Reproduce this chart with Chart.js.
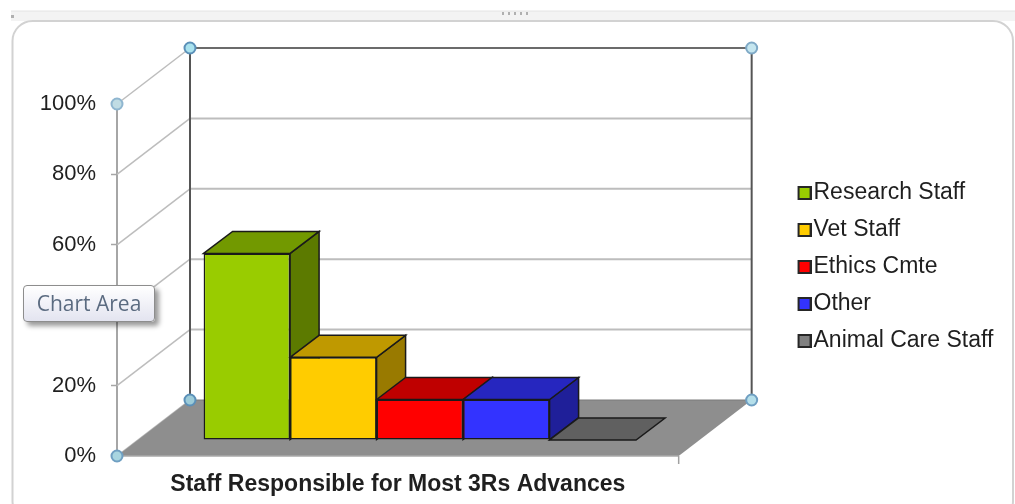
<!DOCTYPE html>
<html>
<head>
<meta charset="utf-8">
<title>Staff Responsible for Most 3Rs Advances</title>
<script src="https://cdn.jsdelivr.net/npm/chart.js@4/dist/chart.umd.min.js"></script>
<style>
html, body { margin: 0; padding: 0; background: #fff; }
#wrap { position: relative; width: 1015px; height: 504px; overflow: hidden; }
canvas { display: block; }
#chartTip {
  position: absolute; left: 23px; top: 285px; width: 130px; height: 35px;
  box-sizing: content-box; border: 1px solid #8d8d8d; border-radius: 4px;
  background: linear-gradient(#ffffff, #e3e4f0);
  box-shadow: 4px 4px 5px rgba(0,0,0,0.4);
  font: 21px/35px "Open Sans", sans-serif; color: #5b6b80; text-align: center;
}
</style>
</head>
<body>
<div id="wrap">
  <canvas id="ChartA" width="1015" height="504"></canvas>
  <div id="chartTip">Chart Area</div>
</div>
<script>
const categories = ['Staff Responsible for Most 3Rs Advances'];
const seriesNames = ['Research Staff', 'Vet Staff', 'Ethics Cmte', 'Other', 'Animal Care Staff'];
const seriesValues = [53, 23.5, 11.5, 11.5, 0];
const frontColors = ['#99cc00', '#ffcc00', '#ff0000', '#3333ff', '#808080'];
const topColors = ['#729900', '#bf9900', '#bf0000', '#2626bf', '#606060'];
const sideColors = ['#5c7a00', '#997a00', '#990000', '#1f1f99', '#4d4d4d'];
const tickValues = [0, 20, 40, 60, 80, 100];

// box depth of the whole plot, and of each bar, in pixels
const DEPTH_X = 73, DEPTH_Y = -56;
const BAR_DX = 29, BAR_DY = -22;
// bars stand a bit behind the front edge of the floor
const SHIFT_X = 22, SHIFT_Y = -16;

function poly(ctx, pts, fill, stroke, lw) {
  ctx.beginPath();
  pts.forEach((p, i) => i ? ctx.lineTo(p[0], p[1]) : ctx.moveTo(p[0], p[1]));
  ctx.closePath();
  if (fill) { ctx.fillStyle = fill; ctx.fill(); }
  if (stroke) { ctx.strokeStyle = stroke; ctx.lineWidth = lw; ctx.stroke(); }
}

function line(ctx, x1, y1, x2, y2, color, lw) {
  ctx.beginPath();
  ctx.moveTo(x1, y1);
  ctx.lineTo(x2, y2);
  ctx.strokeStyle = color;
  ctx.lineWidth = lw;
  ctx.stroke();
}

function handle(ctx, x, y, r, fill, stroke) {
  ctx.beginPath();
  ctx.arc(x, y, r, 0, Math.PI * 2);
  ctx.fillStyle = fill;
  ctx.fill();
  ctx.strokeStyle = stroke;
  ctx.lineWidth = 2;
  ctx.stroke();
}

// legend marker: the swatch sits at the right of a wider image, which
// brings it close to the label text (the library keeps half a font size)
function legendMarker(color) {
  const c = document.createElement('canvas');
  c.width = 19;
  c.height = 14;
  const g = c.getContext('2d');
  g.fillStyle = '#262626';
  g.fillRect(5, 0, 14, 14);
  g.fillStyle = color;
  g.fillRect(7, 2, 10, 10);
  return c;
}

// window frame around the chart
const framePlugin = {
  id: 'frame',
  beforeDraw(chart) {
    const ctx = chart.ctx;
    ctx.save();
    ctx.fillStyle = '#f3f3f3';
    ctx.fillRect(11, 11, 1004, 10);
    line(ctx, 11, 11, 1015, 11, '#e4e4e4', 1);
    ctx.fillStyle = '#fff';
    ctx.fillRect(11, 21, 22, 22);
    ctx.fillRect(993, 21, 22, 22);
    ctx.beginPath();
    ctx.roundRect(12.5, 21, 1000.5, 500, 20);
    ctx.fillStyle = '#fff';
    ctx.fill();
    ctx.strokeStyle = '#d2d2d2';
    ctx.lineWidth = 2;
    ctx.stroke();
    ctx.fillStyle = '#b0b0b0';
    [502, 508, 514, 520, 526].forEach(x => ctx.fillRect(x, 12, 2, 3));
    ctx.fillRect(11, 15, 3, 3);
    ctx.restore();
  }
};

// walls, floor, gridlines and the top and side faces of the bars
const box3dPlugin = {
  id: 'box3d',
  beforeDatasetsDraw(chart) {
    const ctx = chart.ctx;
    const a = chart.chartArea;
    const y = chart.scales.y;
    const backL = a.left + DEPTH_X, backR = a.right + DEPTH_X;
    ctx.save();

    tickValues.forEach(v => {
      const py = y.getPixelForValue(v);
      line(ctx, a.left, py, backL, py + DEPTH_Y, '#bdbdbd', 1.5);
      if (v > 0 && v < 100) line(ctx, backL, py + DEPTH_Y, backR, py + DEPTH_Y, '#bdbdbd', 2);
    });
    line(ctx, backL, a.top + DEPTH_Y, backR, a.top + DEPTH_Y, '#6b6b6b', 2);
    line(ctx, backL, a.top + DEPTH_Y, backL, a.bottom + DEPTH_Y, '#555', 2);
    line(ctx, backR, a.top + DEPTH_Y, backR, a.bottom + DEPTH_Y, '#555', 2);

    poly(ctx, [[a.left, a.bottom], [backL, a.bottom + DEPTH_Y], [backR, a.bottom + DEPTH_Y], [a.right, a.bottom]], '#8e8e8e');
    line(ctx, backL, a.bottom + DEPTH_Y, backR, a.bottom + DEPTH_Y, '#7a7a7a', 1);
    line(ctx, a.left, a.bottom, a.right, a.bottom, '#a8a8a8', 1.5);
    line(ctx, a.right, a.bottom, a.right, a.bottom + 8, '#a0a0a0', 1.5);

    // left to right so each bar's top covers the foot of its neighbour's side
    chart.data.datasets.forEach((ds, i) => {
      const bar = chart.getDatasetMeta(i).data[0];
      const x1 = bar.x - bar.width / 2 + SHIFT_X, x2 = bar.x + bar.width / 2 + SHIFT_X;
      const top = bar.y + SHIFT_Y, bottom = bar.base + SHIFT_Y;
      if (bottom > top) {
        poly(ctx, [[x2, top], [x2 + BAR_DX, top + BAR_DY], [x2 + BAR_DX, bottom + BAR_DY], [x2, bottom]], sideColors[i], '#1a1a1a', 1.5);
      }
      poly(ctx, [[x1, top], [x1 + BAR_DX, top + BAR_DY], [x2 + BAR_DX, top + BAR_DY], [x2, top]], topColors[i], '#1a1a1a', 1.5);
    });
    ctx.restore();

    // the library's bars are the front faces, moved back onto the floor
    ctx.save();
    ctx.translate(SHIFT_X, SHIFT_Y);
  },
  afterDatasetsDraw(chart) {
    chart.ctx.restore();
  },
  afterLayout(chart) {
    // legend sits apart from the plot, level with the lower half of the box
    const lg = chart.legend;
    const pad = lg.options.labels.padding;
    const w = lg.right - lg.left;
    lg.left = 802 - pad;
    lg.right = lg.left + w;
    lg.top -= 37;
    lg.bottom -= 37;
  },
  afterDraw(chart) {
    const ctx = chart.ctx;
    const a = chart.chartArea;
    const backL = a.left + DEPTH_X, backR = a.right + DEPTH_X;
    ctx.save();
    handle(ctx, backL, a.top + DEPTH_Y, 5.5, '#a9e2ee', '#5b90b8');
    handle(ctx, backR, a.top + DEPTH_Y, 5.5, '#c5e6ef', '#7fa9c6');
    handle(ctx, backL, a.bottom + DEPTH_Y, 5.5, '#9ccbd8', '#5b90b8');
    handle(ctx, backR, a.bottom + DEPTH_Y, 5.5, '#b5dfea', '#6f9fc2');
    handle(ctx, a.left, a.top, 5.5, '#c0dce4', '#8fb6d0');
    handle(ctx, a.left, a.bottom, 5.5, '#a8d5e0', '#6f9fc2');
    ctx.restore();
  }
};

const datasets = seriesNames.map((name, i) => ({
  label: name,
  data: [seriesValues[i]],
  backgroundColor: frontColors[i],
  borderColor: '#1a1a1a',
  borderWidth: 1.5,
  borderSkipped: false
}));

new Chart(document.getElementById('ChartA').getContext('2d'), {
  type: 'bar',
  data: { labels: categories, datasets: datasets },
  plugins: [framePlugin, box3dPlugin],
  options: {
    responsive: false,
    animation: false,
    categoryPercentage: 0.77,
    barPercentage: 1,
    layout: { padding: { top: 104, right: 121, left: 0, bottom: 0 } },
    plugins: {
      tooltip: { enabled: false },
      legend: {
        position: 'right',
        labels: {
          usePointStyle: true,
          boxWidth: 0.01,
          boxHeight: 14,
          padding: 14,
          color: '#1f1f1f',
          font: { family: '"Liberation Sans"', size: 23 },
          generateLabels(chart) {
            const items = Chart.defaults.plugins.legend.labels.generateLabels(chart);
            items.forEach((item, i) => { item.pointStyle = legendMarker(frontColors[i]); });
            return items;
          }
        }
      }
    },
    scales: {
      x: {
        grid: { display: false },
        border: { display: false },
        ticks: {
          color: '#1f1f1f',
          padding: 7,
          font: { family: '"Liberation Sans"', size: 23, weight: 'bold' }
        },
        afterFit(scale) { scale.height = 48; }
      },
      y: {
        min: 0,
        max: 100,
        grid: { drawOnChartArea: false, tickLength: 6, tickColor: '#a6a6a6', tickWidth: 1.5 },
        border: { color: '#a6a6a6', width: 2 },
        afterBuildTicks(scale) { scale.ticks = tickValues.map(v => ({ value: v })); },
        ticks: {
          padding: 15,
          color: '#1f1f1f',
          font: { family: '"Liberation Sans"', size: 22 },
          callback: v => v + '%'
        },
        afterFit(scale) { scale.width = 117; }
      }
    }
  }
});
</script>
</body>
</html>
